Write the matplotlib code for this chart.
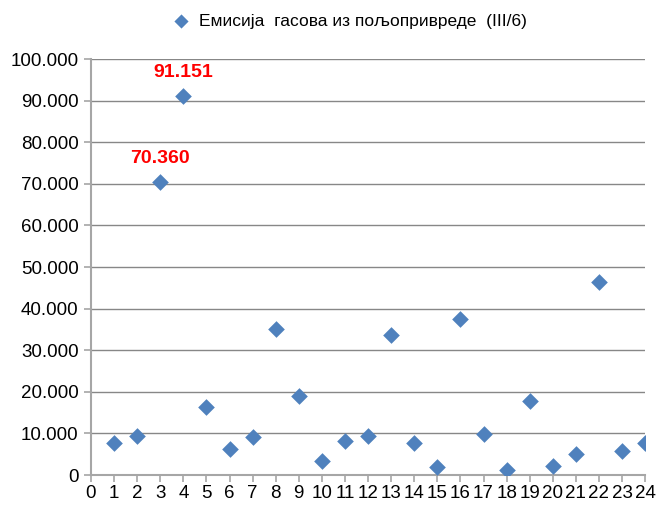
import numpy as np
import matplotlib
matplotlib.use('Agg')
import matplotlib.pyplot as plt
from matplotlib.ticker import FuncFormatter, MultipleLocator

plt.rcParams['font.family'] = ['Liberation Sans', 'DejaVu Sans']

# emission per municipality index
x = [1, 2, 3, 4, 5, 6, 7, 8, 9, 10, 11, 12,
     13, 14, 15, 16, 17, 18, 19, 20, 21, 22, 23, 24]
y = [7760, 9450, 70360, 91151, 16270, 6250, 9130, 35100, 19060, 3370, 8170, 9300,
     33700, 7780, 2000, 37560, 9800, 1200, 17900, 2270, 5150, 46300, 5880, 7800]
labelled = [2, 3]  # indexes of points with value labels
series_name = 'Емисија  гасова из пољопривреде  (III/6)'

blue = '#4F81BD'
grey = '#A6A6A6'

fig = plt.figure(figsize=(6.57, 5.05), dpi=100)
ax = fig.add_axes([0.1385, 0.0594, 0.8435, 0.8236])

ax.scatter(x, y, marker='D', s=72, color=blue, zorder=3, label=series_name,
           linewidths=0)

for i in labelled:
    ax.annotate(f'{y[i]:,}'.replace(',', '.'), (x[i], y[i]),
                xytext=(0, 11), textcoords='offset points',
                ha='center', va='bottom', color='#FF0000',
                fontsize=14, fontweight='bold')

ax.set_xlim(0, 24)
ax.set_ylim(0, 100000)
ax.xaxis.set_major_locator(MultipleLocator(1))
ax.yaxis.set_major_locator(MultipleLocator(10000))
ax.yaxis.set_major_formatter(FuncFormatter(lambda v, p: f'{int(v):,}'.replace(',', '.')))

ax.grid(axis='y', color='#878787', linewidth=1)
ax.set_axisbelow(True)
for side in ['top', 'right']:
    ax.spines[side].set_visible(False)
for side in ['left', 'bottom']:
    ax.spines[side].set_color(grey)
    ax.spines[side].set_linewidth(1.5)
ax.tick_params(axis='both', colors=grey, labelcolor='black', labelsize=13.5,
               length=5, width=1.2)
ax.tick_params(axis='x', pad=2)
ax.tick_params(axis='y', pad=4)

fig.legend(loc='center', bbox_to_anchor=(0.525, 0.958), frameon=False,
           fontsize=12.5, handletextpad=0.05, markerscale=0.85)

fig.savefig('out.png', dpi=100)
